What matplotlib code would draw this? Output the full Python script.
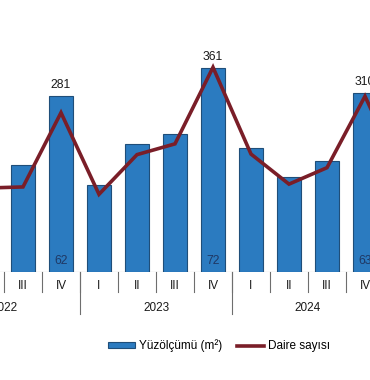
import matplotlib
matplotlib.use("Agg")
import matplotlib.pyplot as plt
from matplotlib.lines import Line2D
from matplotlib.patches import Patch

# Visible window of a wider quarterly chart (II-2022 .. I-2025)
quarters = ["II", "III", "IV", "I", "II", "III", "IV", "I", "II", "III", "IV", "I"]
years = ["2022", "2023", "2024", "2025"]
year_sizes = [4, 4, 4, 4]  # quarters per year
first_year_offset = 1      # II-2022 is the 2nd quarter of 2022
area = [40.0, 37.7, 62, 30.6, 45.1, 48.6, 72, 43.7, 33.5, 39.1, 63, 42.0]          # million m2
dwellings = [148, 150, 281, 137, 207, 226, 361, 208, 155, 184, 310, 165]           # thousand
labeled = [2, 6, 10]  # quarters that carry value labels

BAR_COLOR = "#2B7BC0"
BAR_EDGE = "#1F4E79"
LINE_COLOR = "#7A1E28"
TEXT_COLOR = "#1a1a1a"
FONT = ["Liberation Sans", "DejaVu Sans"]

plt.rcParams["font.family"] = FONT

fig = plt.figure(figsize=(3.7, 3.8), dpi=100)
ax = fig.add_axes([0.0, 108 / 380, 1.0, 272 / 380])
ax2 = ax.twinx()

xs = [i - 1 for i in range(len(quarters))]
ax.bar(xs, area, width=0.61, color=BAR_COLOR, edgecolor=BAR_EDGE, linewidth=0.8, zorder=2)
ax2.plot(xs, dwellings, color=LINE_COLOR, linewidth=2.6, solid_joinstyle="miter", zorder=3)

ax.set_xlim(-23 / 38, 347 / 38)
ax.set_ylim(0, 272 / 2.84)
ax2.set_ylim(0, 272 / 0.567)

for a in (ax, ax2):
    a.set_yticks([])
    for side in ("left", "right", "top", "bottom"):
        a.spines[side].set_visible(False)
ax.set_xticks([])
ax.axhline(0, color="#8c8c8c", linewidth=0.8, zorder=1)

trans = ax.get_xaxis_transform()
# quarter separators and labels
for x, q in zip(xs, quarters):
    ax.text(x, -0.053, q, transform=trans, ha="center", va="center",
            fontsize=8.5, color=TEXT_COLOR, clip_on=False)
    ax.plot([x + 0.5, x + 0.5], [0, -0.074], transform=trans, color="#6e6e6e",
            linewidth=0.8, clip_on=False)

# year separators and labels
start = xs[0] - first_year_offset
for y, n in zip(years, year_sizes):
    ax.plot([start - 0.5, start - 0.5], [0, -0.156], transform=trans, color="#6e6e6e",
            linewidth=0.8, clip_on=False)
    ax.text(start + (n - 1) / 2, -0.131, y, transform=trans, ha="center", va="center",
            fontsize=8.5, color=TEXT_COLOR, clip_on=False)
    start += n

for i in labeled:
    ax.annotate(f"{dwellings[i]}", (xs[i], area[i]), xytext=(0, 3.5), textcoords="offset points",
                ha="center", va="bottom", fontsize=8.7, color=TEXT_COLOR)
    ax.annotate(f"{area[i]:.0f}", (xs[i], 0), xytext=(0, 8), textcoords="offset points",
                ha="center", va="center", fontsize=8.7, color="#1F3864")

handles = [
    Patch(facecolor=BAR_COLOR, edgecolor=BAR_EDGE, linewidth=0.8),
    Line2D([], [], color=LINE_COLOR, linewidth=2.6),
]
fig.legend(handles, ["Yüzölçümü (m²)", "Daire sayısı"], loc="center",
           bbox_to_anchor=(0.592, 0.09), ncol=2, frameon=False, fontsize=8.5,
           handlelength=2.3, handleheight=0.4, handletextpad=0.3, columnspacing=1.3)

fig.savefig("out.png", dpi=100)
